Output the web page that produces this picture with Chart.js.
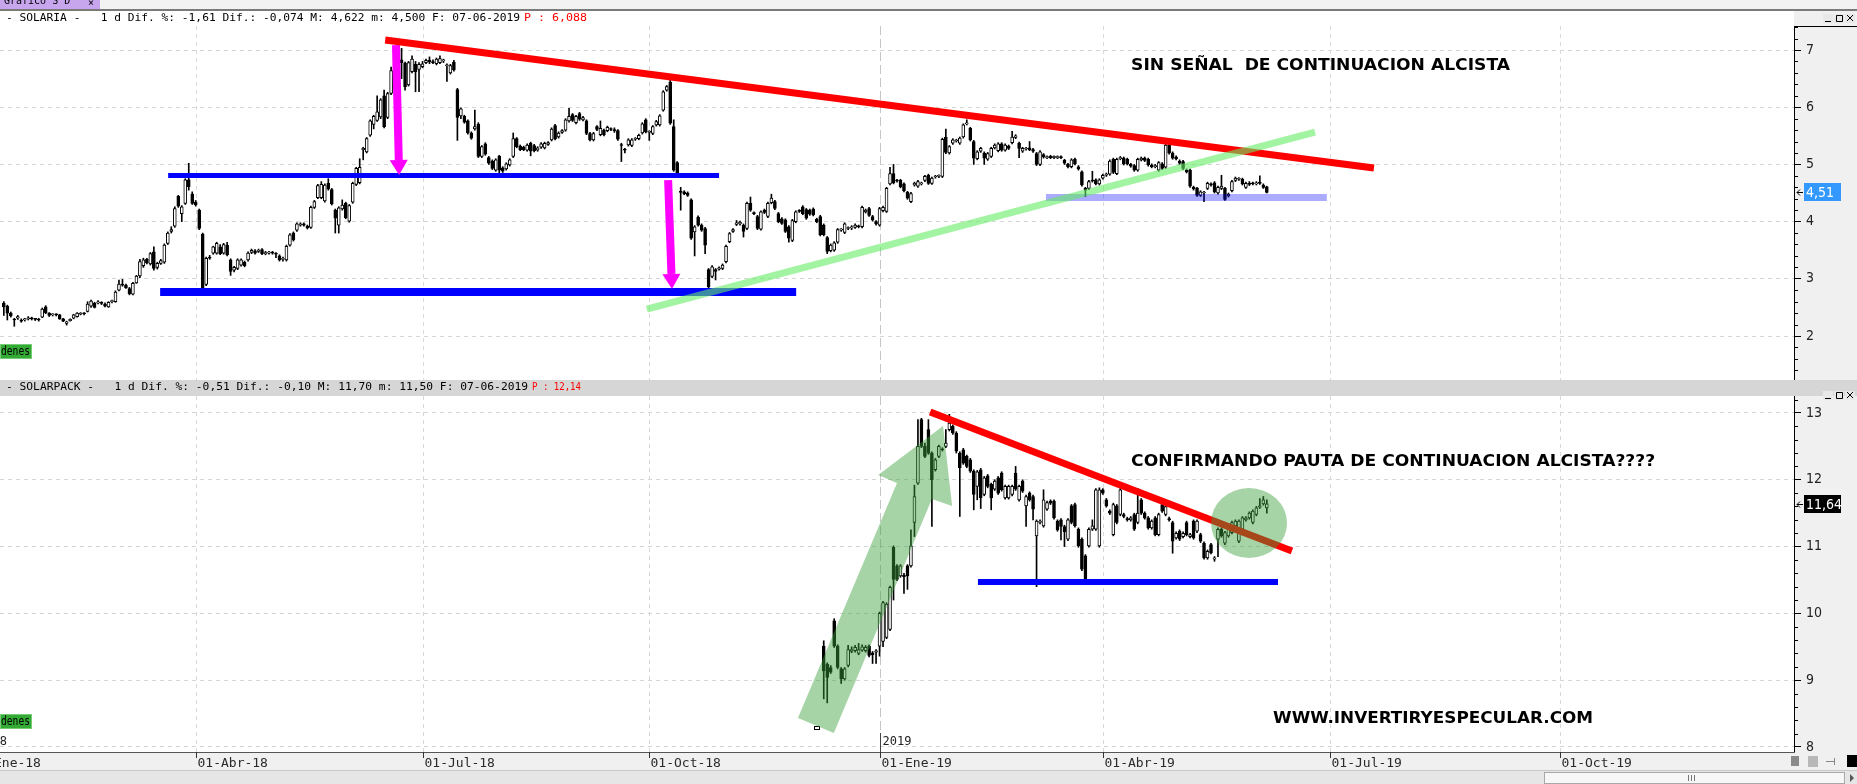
<!DOCTYPE html>
<html>
<head>
<meta charset="utf-8">
<script src="https://cdn.jsdelivr.net/npm/chart.js@4.4.1/dist/chart.umd.min.js"></script>
<style>
  html, body { margin: 0; padding: 0; background: #fff; overflow: hidden; }
  #wrap { position: relative; width: 1857px; height: 784px; }
  canvas { position: absolute; left: 0; }
  #top { top: 0; }
  #bot { top: 380px; }
</style>
</head>
<body>
<div id="wrap">
  <canvas id="top" width="1857" height="380"></canvas>
  <canvas id="bot" width="1857" height="404"></canvas>
</div>
<script>
// x axis = trading-day index counted from 01-Ene-18
const xTickIdx = [0, 65, 130, 195, 261, 325, 390, 456];
const xTickLabels = ['01-Ene-18', '01-Abr-18', '01-Jul-18', '01-Oct-18', '01-Ene-19', '01-Abr-19', '01-Jul-19', '01-Oct-19'];
const xView = [8.9, 523.1];

const solariaRange = [1.231, 7.42];
const solarpackRange = [7.925, 13.254];

// daily candles [open, high, low, close]
const solariaStart = 10;
const solaria = [
  [2.57,2.60,2.36,2.51],[2.52,2.54,2.28,2.40],[2.40,2.42,2.33,2.35],[2.29,2.31,2.17,2.28],[2.31,2.36,2.29,2.34],
  [2.28,2.30,2.24,2.26],[2.28,2.31,2.26,2.30],[2.30,2.34,2.28,2.32],[2.32,2.33,2.28,2.30],[2.30,2.31,2.27,2.29],
  [2.29,2.31,2.26,2.28],[2.33,2.49,2.32,2.47],[2.51,2.53,2.39,2.41],[2.40,2.41,2.34,2.36],[2.37,2.39,2.35,2.38],
  [2.38,2.39,2.35,2.37],[2.37,2.38,2.29,2.30],[2.30,2.31,2.25,2.26],[2.22,2.26,2.19,2.25],[2.27,2.30,2.26,2.29],
  [2.31,2.38,2.30,2.37],[2.34,2.41,2.33,2.40],[2.38,2.41,2.37,2.40],[2.40,2.41,2.37,2.39],[2.43,2.60,2.42,2.56],
  [2.52,2.63,2.50,2.61],[2.57,2.59,2.49,2.50],[2.58,2.62,2.56,2.59],[2.58,2.60,2.55,2.57],[2.56,2.58,2.51,2.52],
  [2.51,2.60,2.50,2.59],[2.60,2.63,2.58,2.61],[2.60,2.79,2.59,2.77],[2.80,2.98,2.79,2.91],[2.90,2.99,2.87,2.89],
  [2.89,2.91,2.83,2.84],[2.83,2.85,2.72,2.74],[2.73,2.94,2.72,2.92],[2.93,3.06,2.92,3.05],[3.05,3.34,3.02,3.30],
  [3.23,3.36,3.20,3.33],[3.34,3.36,3.26,3.28],[3.26,3.46,3.24,3.44],[3.47,3.56,3.15,3.18],[3.20,3.29,3.17,3.27],
  [3.27,3.34,3.25,3.32],[3.29,3.61,3.27,3.59],[3.62,3.82,3.60,3.80],[3.83,3.91,3.80,3.86],[3.92,4.26,3.90,4.23],
  [4.44,4.46,4.25,4.27],[4.14,4.28,4.00,4.26],[4.32,4.75,4.30,4.73],[4.73,5.02,4.55,4.61],[4.48,4.52,4.30,4.32],
  [4.34,4.37,4.27,4.29],[4.20,4.22,3.86,3.88],[3.78,3.80,2.82,2.84],[2.90,3.38,2.88,3.36],[3.38,3.41,3.34,3.36],
  [3.45,3.57,3.43,3.56],[3.45,3.64,3.43,3.62],[3.56,3.60,3.42,3.44],[3.45,3.62,3.43,3.60],[3.59,3.64,3.40,3.42],
  [3.33,3.35,3.06,3.13],[3.15,3.22,3.12,3.20],[3.18,3.35,3.16,3.33],[3.24,3.35,3.22,3.33],[3.29,3.31,3.21,3.23],
  [3.33,3.47,3.31,3.45],[3.46,3.52,3.44,3.50],[3.49,3.51,3.43,3.45],[3.48,3.52,3.46,3.50],[3.51,3.53,3.42,3.44],
  [3.44,3.48,3.42,3.46],[3.45,3.48,3.43,3.46],[3.46,3.48,3.43,3.45],[3.44,3.46,3.37,3.43],[3.40,3.42,3.31,3.33],
  [3.34,3.38,3.31,3.36],[3.33,3.59,3.31,3.57],[3.59,3.79,3.57,3.77],[3.80,3.82,3.66,3.68],[3.85,3.98,3.83,3.96],
  [3.94,3.98,3.92,3.96],[3.96,3.98,3.92,3.94],[3.92,3.94,3.87,3.89],[3.90,4.27,3.88,4.25],[4.25,4.37,4.23,4.35],
  [4.42,4.65,4.40,4.63],[4.42,4.70,4.40,4.65],[4.36,4.66,4.34,4.64],[4.67,4.75,4.55,4.57],[4.56,4.58,4.29,4.31],
  [4.20,4.22,3.80,4.06],[3.94,4.26,3.80,4.24],[4.22,4.38,4.20,4.29],[4.32,4.34,4.05,4.07],[4.01,4.30,3.99,4.28],
  [4.34,4.69,4.32,4.67],[4.65,4.95,4.63,4.93],[4.68,5.10,4.66,4.95],[5.26,5.30,5.08,5.28],[5.22,5.47,5.20,5.45],
  [5.51,5.78,5.49,5.76],[5.70,5.86,5.62,5.84],[5.77,6.20,5.75,5.92],[5.83,6.15,5.80,6.13],[6.20,6.30,5.64,5.66],
  [5.82,6.26,5.80,6.24],[6.24,6.70,6.22,6.64],[6.62,7.05,6.60,6.88],[6.88,7.00,6.75,6.80],[6.83,7.03,6.50,6.78],
  [6.77,6.79,6.30,6.36],[6.39,6.80,6.37,6.78],[6.62,6.90,6.60,6.84],[6.75,6.80,6.27,6.62],[6.66,6.78,6.27,6.75],
  [6.71,6.80,6.69,6.76],[6.78,6.84,6.76,6.82],[6.82,6.88,6.76,6.79],[6.80,6.83,6.76,6.78],[6.76,6.86,6.74,6.84],
  [6.78,6.90,6.76,6.85],[6.81,6.84,6.78,6.82],[6.72,6.76,6.45,6.74],[6.60,6.75,6.58,6.73],[6.79,6.82,6.63,6.65],
  [6.31,6.33,5.42,5.82],[5.85,5.99,5.80,5.97],
  [5.84,5.86,5.72,5.74],[5.76,5.78,5.53,5.55],[5.55,5.57,5.44,5.46],[5.62,5.95,5.60,5.66],[5.70,5.73,5.12,5.14],
  [5.14,5.33,5.12,5.31],[5.36,5.38,5.16,5.18],[5.12,5.14,5.00,5.02],[5.06,5.08,4.91,4.93],[4.90,5.10,4.88,5.08],
  [5.14,5.16,4.85,4.90],[4.94,4.96,4.86,4.88],[4.92,5.03,4.90,5.01],[4.99,5.10,4.97,5.08],[5.14,5.55,5.12,5.45],
  [5.45,5.47,5.29,5.31],[5.32,5.34,5.24,5.26],[5.30,5.32,5.24,5.26],[5.25,5.36,5.23,5.34],[5.37,5.39,5.15,5.23],
  [5.33,5.35,5.22,5.24],[5.25,5.31,5.23,5.29],[5.30,5.38,5.28,5.36],[5.29,5.39,5.27,5.37],[5.35,5.40,5.33,5.38],
  [5.43,5.64,5.41,5.62],[5.68,5.70,5.43,5.45],[5.48,5.57,5.46,5.55],[5.56,5.61,5.54,5.59],[5.60,5.80,5.58,5.78],
  [5.76,5.98,5.74,5.84],[5.87,5.89,5.75,5.77],[5.73,5.86,5.71,5.84],[5.89,5.91,5.77,5.79],[5.78,5.84,5.76,5.82],
  [5.76,5.78,5.52,5.54],[5.54,5.56,5.41,5.43],[5.43,5.56,5.41,5.54],[5.66,5.68,5.59,5.61],[5.52,5.76,5.50,5.63],
  [5.60,5.62,5.50,5.52],[5.59,5.67,5.57,5.65],[5.62,5.64,5.59,5.61],[5.61,5.64,5.56,5.59],[5.59,5.61,5.42,5.44],
  [5.34,5.37,5.05,5.33],[5.26,5.28,5.20,5.25],[5.34,5.45,5.32,5.43],[5.33,5.45,5.31,5.43],[5.44,5.47,5.42,5.45],
  [5.45,5.53,5.43,5.51],[5.55,5.73,5.53,5.71],[5.78,5.80,5.55,5.57],[5.56,5.59,5.42,5.57],[5.54,5.68,5.52,5.66],
  [5.69,5.77,5.67,5.75],[5.69,5.87,5.67,5.85],[5.95,6.29,5.93,6.27],[6.30,6.38,6.28,6.36],[6.44,6.50,5.70,5.72],
  [5.66,5.78,4.88,4.90],[5.03,5.05,4.77,4.79],[4.52,4.60,4.20,4.51],[4.52,4.54,4.47,4.49],[4.50,4.52,4.44,4.46],
  [4.38,4.40,3.69,3.71],[3.82,3.93,3.40,3.91],[4.08,4.10,3.92,3.94],[3.94,3.96,3.83,3.85],[3.88,3.90,3.44,3.59],
  [3.16,3.18,2.84,2.86],[3.04,3.23,3.02,3.21],[3.16,3.18,2.98,3.13],[3.17,3.21,3.15,3.19],[3.18,3.26,3.16,3.24],
  [3.30,3.59,3.28,3.57],[3.65,3.81,3.63,3.79],[3.83,3.88,3.81,3.86],[3.95,4.02,3.93,3.98],[3.96,4.01,3.94,3.99],
  [3.94,3.96,3.73,3.83],[3.88,4.34,3.86,4.32],[4.32,4.43,4.18,4.20],[4.15,4.17,4.12,4.14],[4.09,4.11,3.86,3.88],
  [3.87,4.19,3.85,4.17],[4.20,4.22,4.14,4.16],[4.09,4.34,4.07,4.32],[4.33,4.48,4.31,4.41],[4.35,4.37,4.21,4.23],
  [4.14,4.16,3.98,4.00],[4.05,4.07,3.95,3.97],[4.03,4.05,3.81,3.83],[3.91,3.93,3.64,3.71],[3.67,4.04,3.65,4.02],
  [4.00,4.19,3.98,4.17],[4.19,4.21,4.16,4.18],[4.26,4.28,4.12,4.14],[4.21,4.23,4.04,4.06],[4.20,4.22,4.11,4.13],
  [4.22,4.24,4.10,4.12],[4.04,4.06,3.98,4.00],[4.09,4.11,3.75,3.77],[3.94,3.96,3.75,3.77],[3.72,3.74,3.44,3.48],
  [3.49,3.61,3.47,3.59],[3.50,3.65,3.48,3.63],[3.64,3.88,3.62,3.86],[3.85,3.88,3.83,3.86],[3.81,3.98,3.79,3.96],
  [3.88,3.91,3.86,3.89],[3.89,3.93,3.86,3.91],[3.90,3.96,3.88,3.94],[3.92,3.94,3.89,3.91],[3.91,4.27,3.89,4.25],
  [4.17,4.22,4.15,4.20],[4.23,4.25,4.09,4.11],[4.09,4.11,4.01,4.03],[4.00,4.02,3.94,3.96],[3.94,4.25,3.92,4.23],
  [4.19,4.27,4.17,4.25],[4.18,4.60,4.16,4.58],[4.66,4.95,4.64,4.84],[4.84,5.00,4.66,4.68],[4.72,4.74,4.69,4.71],
  [4.72,4.74,4.59,4.61],[4.66,4.68,4.52,4.54],[4.51,4.53,4.39,4.41],[4.35,4.51,4.33,4.49],[4.64,4.69,4.62,4.67],
  [4.62,4.72,4.60,4.70],[4.66,4.69,4.64,4.67],[4.72,4.81,4.70,4.79],[4.81,4.83,4.65,4.67],[4.67,4.78,4.65,4.76],
  [4.78,4.81,4.76,4.79],[4.79,4.82,4.77,4.80],[4.79,5.46,4.77,5.44],[5.48,5.62,5.19,5.21],[5.20,5.33,5.18,5.31],
  [5.37,5.45,5.35,5.43],[5.41,5.44,5.39,5.42],[5.37,5.48,5.35,5.46],[5.48,5.71,5.46,5.69],[5.71,5.78,5.69,5.72],
  [5.63,5.65,5.41,5.43],[5.40,5.42,5.00,5.11],[5.10,5.24,5.08,5.22],[5.23,5.30,5.21,5.28],[5.20,5.22,5.00,5.11],
  [5.09,5.21,5.07,5.19],[5.14,5.30,5.12,5.28],[5.29,5.36,5.27,5.34],[5.24,5.38,5.22,5.36],[5.36,5.38,5.23,5.25],
  [5.25,5.36,5.23,5.34],[5.32,5.34,5.26,5.28],[5.38,5.58,5.36,5.48],[5.47,5.52,5.45,5.50],[5.37,5.39,5.12,5.28],
  [5.23,5.30,5.21,5.28],[5.27,5.30,5.25,5.28],[5.29,5.40,5.24,5.26],[5.26,5.28,5.21,5.23],[5.19,5.21,4.98,5.00],
  [5.00,5.24,4.98,5.22],[5.17,5.19,5.11,5.13],[5.12,5.15,5.10,5.13],[5.14,5.16,5.10,5.12],[5.12,5.15,5.10,5.14],
  [5.12,5.15,5.10,5.13],[5.13,5.15,5.10,5.12],[5.07,5.09,5.00,5.02],[5.00,5.02,4.94,4.96],[4.96,5.10,4.94,5.08],
  [5.09,5.11,4.99,5.01],[4.96,4.98,4.90,4.92],[4.87,4.89,4.62,4.64],[4.58,4.60,4.44,4.55],[4.58,4.72,4.56,4.70],
  [4.72,4.88,4.69,4.71],[4.73,4.75,4.64,4.66],[4.66,4.75,4.64,4.73],[4.76,4.83,4.74,4.81],[4.81,4.85,4.79,4.83],
  [4.83,5.08,4.81,5.06],[5.09,5.11,4.84,4.86],[4.84,5.11,4.82,5.09],[5.10,5.14,5.08,5.11],[5.11,5.13,4.99,5.01],
  [5.09,5.11,4.99,5.01],[5.00,5.02,4.95,4.97],[4.98,5.00,4.88,4.90],[4.90,5.11,4.88,5.09],[5.08,5.13,5.06,5.11],
  [5.11,5.13,5.05,5.07],[5.09,5.11,4.97,4.99],[4.99,5.01,4.94,4.96],[4.96,5.00,4.94,4.98],[4.90,5.05,4.88,5.03],
  [5.01,5.03,4.91,4.93],[4.95,5.37,4.93,5.34],[5.34,5.36,5.18,5.20],[5.20,5.22,5.09,5.11],[5.13,5.15,5.08,5.10],
  [5.06,5.08,5.00,5.02],[5.05,5.07,4.91,4.93],[4.90,4.92,4.85,4.87],[4.90,4.92,4.60,4.62],[4.60,4.62,4.55,4.57],
  [4.58,4.60,4.44,4.46],[4.46,4.54,4.44,4.52],[4.50,4.53,4.35,4.51],[4.58,4.69,4.56,4.67],[4.66,4.68,4.62,4.64],
  [4.68,4.70,4.50,4.52],[4.50,4.62,4.48,4.60],[4.58,4.81,4.56,4.62],[4.58,4.60,4.37,4.39],[4.45,4.50,4.43,4.48],
  [4.54,4.72,4.52,4.70],[4.72,4.78,4.70,4.76],[4.74,4.77,4.72,4.75],[4.74,4.76,4.64,4.66],[4.60,4.69,4.58,4.67],
  [4.67,4.70,4.63,4.65],[4.67,4.69,4.64,4.66],[4.66,4.70,4.64,4.68],[4.69,4.80,4.65,4.67],[4.64,4.66,4.58,4.60],
  [4.61,4.62,4.50,4.51]
];

const solarpackStart = 245;
const solarpack = [
  [9.51,9.59,8.72,9.14],[9.24,9.26,8.66,9.04],[9.19,9.22,9.10,9.12],[9.89,9.92,9.49,9.51],[9.51,9.53,9.17,9.19],
  [9.17,9.19,8.95,9.02],[9.02,9.19,9.00,9.17],[9.22,9.52,9.20,9.46],[9.43,9.50,9.41,9.46],[9.44,9.52,9.42,9.49],
  [9.40,9.55,9.38,9.46],[9.45,9.53,9.43,9.50],[9.44,9.52,9.42,9.49],[9.51,9.53,9.35,9.37],[9.41,9.43,9.25,9.38],
  [9.42,9.46,9.25,9.44],[9.51,10.02,9.36,10.00],[9.58,10.18,9.50,10.16],[9.64,10.16,9.62,10.14],[9.76,10.41,9.74,10.39],
  [10.99,11.01,10.20,10.51],[10.71,10.73,10.49,10.51],[10.56,10.73,10.54,10.71],[10.57,10.60,10.30,10.55],[10.71,10.73,10.36,10.56],
  [10.71,11.25,10.69,11.01],[11.36,11.92,11.15,11.75],[11.95,12.90,11.93,12.50],[12.90,12.92,12.48,12.50],[12.50,12.55,12.33,12.35],
  [12.75,12.90,12.38,12.40],[12.40,12.42,11.30,12.00],[12.15,12.32,12.13,12.30],[12.35,12.52,12.33,12.50],[12.46,12.48,12.43,12.45],
  [12.50,12.75,12.48,12.55],[12.75,12.98,12.73,12.85],[12.80,12.82,12.68,12.70],[12.70,12.72,12.40,12.43],[12.40,12.42,11.45,12.18],
  [12.45,12.47,12.23,12.25],[12.35,12.37,12.18,12.20],[12.30,12.32,12.11,12.13],[12.13,12.15,11.55,11.78],[11.90,12.14,11.70,12.12],
  [12.15,12.17,11.57,11.73],[11.78,12.05,11.76,12.03],[12.06,12.08,11.88,11.90],[11.93,11.95,11.55,11.73],[11.86,12.00,11.84,11.98],
  [12.03,12.05,11.78,11.80],[12.10,12.12,11.83,11.85],[11.73,11.92,11.71,11.90],[11.73,11.92,11.71,11.90],[11.78,11.92,11.76,11.90],
  [12.10,12.20,11.84,11.86],[11.70,11.92,11.68,11.90],[11.98,12.00,11.81,11.83],[11.61,11.77,11.30,11.75],[11.80,11.82,11.68,11.70],
  [11.75,11.77,11.40,11.56],[11.16,11.40,10.40,11.38],[11.36,11.40,11.34,11.38],[11.31,11.85,11.29,11.70],[11.56,11.68,11.54,11.66],
  [11.68,11.70,11.63,11.65],[11.68,11.70,11.41,11.43],[11.38,11.40,11.23,11.25],[11.40,11.42,11.10,11.30],[11.30,11.32,11.00,11.22],
  [11.11,11.42,11.09,11.40],[11.61,11.63,11.34,11.36],[11.63,11.65,11.29,11.31],[11.26,11.28,10.99,11.01],[11.11,11.13,10.64,10.66],
  [10.86,10.88,10.47,10.51],[11.01,11.28,10.99,11.26],[11.26,11.40,11.24,11.31],[11.26,11.87,11.24,11.85],[11.01,11.88,10.99,11.85],
  [11.85,11.87,11.78,11.80],[11.70,11.72,11.59,11.61],[11.53,11.55,11.48,11.50],[11.18,11.65,11.16,11.63],[11.61,11.63,11.34,11.36],
  [11.48,11.87,11.46,11.85],[11.48,11.50,11.43,11.45],[11.42,11.44,11.38,11.40],[11.40,11.45,11.38,11.43],[11.48,11.50,11.24,11.26],
  [11.36,11.87,11.34,11.50],[11.70,11.72,11.48,11.50],[11.50,11.52,11.41,11.43],[11.43,11.45,11.26,11.28],[11.28,11.40,11.26,11.38],
  [11.43,11.45,11.16,11.18],[11.18,11.50,11.16,11.48],[11.63,11.70,11.51,11.53],[11.48,11.62,11.46,11.60],[11.42,11.44,11.38,11.40],
  [11.36,11.38,10.90,11.08],[11.13,11.22,11.11,11.20],[11.23,11.25,11.09,11.11],[11.15,11.22,11.13,11.20],[11.36,11.38,11.16,11.18],
  [11.15,11.20,11.13,11.18],[11.38,11.40,11.11,11.13],[11.23,11.40,11.21,11.38],[11.18,11.20,11.06,11.08],[11.05,11.07,10.81,10.83],
  [10.83,10.95,10.81,10.93],[11.03,11.05,10.89,10.91],[10.81,10.85,10.78,10.83],[11.11,11.28,10.85,11.26],[11.26,11.28,11.14,11.16],
  [11.05,11.23,11.03,11.21],[11.16,11.33,11.14,11.31],[11.21,11.38,11.19,11.36],[11.31,11.40,11.29,11.38],[11.08,11.40,11.06,11.38],
  [11.26,11.45,11.24,11.43],[11.40,11.45,11.38,11.43],[11.43,11.52,11.41,11.50],[11.36,11.55,11.34,11.53],[11.48,11.60,11.46,11.58],
  [11.59,11.72,11.57,11.61],[11.64,11.75,11.62,11.70],[11.58,11.70,11.50,11.64]
];
const solarpackLowMark = [243, 8.28];

const solariaTitle = '- SOLARIA -   1 d Dif. %: -1,61 Dif.: -0,074 M: 4,622 m: 4,500 F: 07-06-2019';
const solariaTitleP = 'P : 6,088';
const solarpackTitle = '- SOLARPACK -   1 d Dif. %: -0,51 Dif.: -0,10 M: 11,70 m: 11,50 F: 07-06-2019';
const solarpackTitleP = 'P : 12,14';

// drawn analysis, in (day index, price)
const solRed = [[119.3, 7.175], [402.7, 4.937]];
const solBlueHigh = [[57.1, 4.806], [215.0, 4.806]];
const solBlueLow = [[54.8, 2.769], [237.1, 2.769]];
const solGreen = [[194.3, 2.472], [385.8, 5.566]];
const solLilac = [[308.7, 4.421], [389.2, 4.421]];
const solArrows = [[[122.4, 7.087], [123.3, 4.815]], [[200.4, 4.727], [201.5, 2.822]]];
const solNote = ['SIN SEÑAL  DE CONTINUACION ALCISTA', 333.1, 441.7, 6.72];

const spkRed = [[275.5, 13.015], [379.2, 10.934]];
const spkBlue = [[289.2, 10.47], [375.2, 10.47]];
const spkArrow = [[237.6, 8.434], [266.0, 11.952], [260.6, 12.072], [279.2, 12.805], [281.8, 11.608], [276.0, 11.713], [247.9, 8.210]];
const spkCircle = [366.9, 11.353, 10.9, 0.524];
const spkNote = ['CONFIRMANDO PAUTA DE CONTINUACION ALCISTA????', 333.1, 483.3, 12.27];
const spkSite = ['WWW.INVERTIRYESPECULAR.COM', 373.8, 465.5, 8.42];

const monoFont = '"DejaVu Sans Mono", "Liberation Mono", monospace';
const axisFont = '"DejaVu Sans Condensed", "DejaVu Sans", sans-serif';
const boldFont = 'bold 16px "DejaVu Sans", Arial, sans-serif';

function candleSets(rows, start) {
  const wicks = rows.map((r, i) => ({x: start + i, y: [r[2], r[1]]}));
  const bodies = rows.map((r, i) => ({x: start + i, y: [r[0], r[3]], up: r[3] >= r[0]}));
  return [
    {data: wicks, backgroundColor: '#000', borderWidth: 0, barThickness: 1, grouped: false, order: 2},
    {data: bodies, backgroundColor: c => (c.raw && c.raw.up) ? '#fff' : '#000', borderColor: '#000',
     borderWidth: 1, borderSkipped: false, barThickness: 3, minBarLength: 1, grouped: false, order: 1}
  ];
}

function fitText(ctx, str, x0, x1, yc, font, color) {
  ctx.save();
  ctx.font = font;
  ctx.fillStyle = color;
  ctx.textBaseline = 'middle';
  ctx.textAlign = 'left';
  const w = ctx.measureText(str).width;
  ctx.translate(x0, yc);
  ctx.scale((x1 - x0) / w, 1);
  ctx.fillText(str, 0, 0);
  ctx.restore();
}

function px(chart, p) {
  return [chart.scales.x.getPixelForValue(p[0]), chart.scales.y.getPixelForValue(p[1])];
}

function seg(chart, a, b, width, color) {
  const ctx = chart.ctx;
  const [x1, y1] = px(chart, a), [x2, y2] = px(chart, b);
  ctx.save();
  ctx.strokeStyle = color;
  ctx.lineWidth = width;
  ctx.lineCap = 'butt';
  ctx.beginPath();
  ctx.moveTo(x1, y1);
  ctx.lineTo(x2, y2);
  ctx.stroke();
  ctx.restore();
}

function arrow(chart, a, b, color) {
  const ctx = chart.ctx;
  const [x1, y1] = px(chart, a), [x2, y2] = px(chart, b);
  const len = Math.hypot(x2 - x1, y2 - y1), ux = (x2 - x1) / len, uy = (y2 - y1) / len;
  const hx = x2 - ux * 15, hy = y2 - uy * 15;
  ctx.save();
  ctx.strokeStyle = color;
  ctx.fillStyle = color;
  ctx.lineWidth = 8;
  ctx.beginPath();
  ctx.moveTo(x1, y1);
  ctx.lineTo(hx, hy);
  ctx.stroke();
  ctx.beginPath();
  ctx.moveTo(x2, y2);
  ctx.lineTo(hx - uy * 9, hy + ux * 9);
  ctx.lineTo(hx + uy * 9, hy - ux * 9);
  ctx.closePath();
  ctx.fill();
  ctx.restore();
}

function noteText(chart, note) {
  const x = chart.scales.x, y = chart.scales.y;
  fitText(chart.ctx, note[0], x.getPixelForValue(note[1]), x.getPixelForValue(note[2]), y.getPixelForValue(note[3]), boldFont, '#000');
}

function vGrid(chart) {
  const {ctx, chartArea: ca, scales: {x}} = chart;
  ctx.save();
  ctx.lineWidth = 1;
  xTickIdx.forEach((t, i) => {
    const p = Math.round(x.getPixelForValue(t)) + 0.5;
    if (p < ca.left || p > ca.right) return;
    const yearStart = xTickLabels[i].indexOf('Ene') > 0;
    ctx.strokeStyle = yearStart ? '#c6c6c6' : '#d8d8d8';
    ctx.setLineDash(yearStart ? [9, 4] : [4, 4]);
    ctx.beginPath();
    ctx.moveTo(p, ca.top);
    ctx.lineTo(p, ca.bottom);
    ctx.stroke();
  });
  ctx.restore();
}

function axisExtras(chart, last, boxColor) {
  const {ctx, chartArea: ca, scales: {y}} = chart;
  ctx.save();
  ctx.strokeStyle = '#000';
  ctx.lineWidth = 1;
  for (let v = Math.ceil(y.min * 5) / 5; v <= y.max; v = Math.round((v + 0.2) * 5) / 5) {
    if (Math.abs(v - Math.round(v)) < 1e-6) continue;
    const py = Math.round(y.getPixelForValue(v)) + 0.5;
    ctx.beginPath();
    ctx.moveTo(ca.right, py);
    ctx.lineTo(ca.right + 4, py);
    ctx.stroke();
  }
  const py = Math.round(y.getPixelForValue(last));
  ctx.fillStyle = boxColor;
  ctx.fillRect(ca.right + 10, py - 9, 37, 18);
  ctx.font = '14px ' + axisFont;
  ctx.fillStyle = '#fff';
  ctx.textBaseline = 'middle';
  ctx.fillText(last.toFixed(2).replace('.', ','), ca.right + 12, py + 1);
  ctx.beginPath();
  ctx.moveTo(ca.right + 3, py + 0.5);
  ctx.lineTo(ca.right + 9, py + 0.5);
  ctx.moveTo(ca.right + 6, py - 2.5);
  ctx.lineTo(ca.right + 3, py + 0.5);
  ctx.lineTo(ca.right + 6, py + 3.5);
  ctx.stroke();
  ctx.restore();
}

function winButtons(ctx, y) {
  ctx.save();
  ctx.strokeStyle = '#000';
  ctx.fillStyle = '#e8e8e8';
  ctx.lineWidth = 1;
  [1823, 1834, 1845].forEach(x => { ctx.fillRect(x, y, 10, 9); });
  ctx.beginPath();
  ctx.moveTo(1825, y + 7.5); ctx.lineTo(1831, y + 7.5);
  ctx.rect(1836.5, y + 1.5, 6, 6);
  ctx.moveTo(1847, y + 1); ctx.lineTo(1853, y + 7);
  ctx.moveTo(1853, y + 1); ctx.lineTo(1847, y + 7);
  ctx.stroke();
  ctx.restore();
}

function denes(ctx, y) {
  ctx.save();
  ctx.fillStyle = '#33aa33';
  ctx.fillRect(0, y, 32, 15);
  ctx.strokeStyle = '#77cc77';
  ctx.strokeRect(0.5, y + 0.5, 31, 14);
  fitText(ctx, 'denes', 1, 30, y + 8, '12px ' + monoFont, '#000');
  ctx.restore();
}

function titleLine(ctx, y, main, mainEnd, red, redStart, redEnd) {
  fitText(ctx, main, 6, mainEnd, y, '11px ' + monoFont, '#000');
  fitText(ctx, red, redStart, redEnd, y, '11px ' + monoFont, '#ff0000');
}

function yScale(range) {
  return {
    type: 'linear', position: 'right', min: range[0], max: range[1],
    afterFit: s => { s.width = 63; s.paddingTop = 0; s.paddingBottom = 0; },
    ticks: {stepSize: 1, includeBounds: false, padding: 5, color: '#222',
            font: {family: axisFont, size: 14}, callback: v => String(v)},
    grid: {color: '#d6d6d6', tickColor: '#000', tickLength: 7},
    border: {display: true, color: '#000', width: 1, dash: [4, 4]}
  };
}

const xScale = {type: 'linear', min: xView[0], max: xView[1], display: false, offset: false};

const topPlugin = {
  id: 'topPanel',
  beforeDraw(chart) {
    const ctx = chart.ctx, ca = chart.chartArea;
    ctx.save();
    ctx.fillStyle = '#fff';
    ctx.fillRect(0, 0, chart.width, chart.height);
    ctx.fillStyle = '#f2f2f2';
    ctx.fillRect(0, 0, chart.width, 9);
    ctx.fillStyle = '#c7a6ee';
    ctx.fillRect(0, 0, 100, 9);
    ctx.fillStyle = '#7a7a7a';
    ctx.fillRect(0, 9, chart.width, 2);
    ctx.fillStyle = '#f0f0f0';
    ctx.fillRect(ca.right, 11, chart.width - ca.right, chart.height - 11);
    ctx.fillStyle = '#000';
    ctx.fillRect(ca.right, ca.top, chart.width - ca.right, 1);
    ctx.font = '10px ' + monoFont;
    ctx.textBaseline = 'alphabetic';
    ctx.fillText('Gráfico S D', 4, 4);
    ctx.fillText('×', 88, 6);
    ctx.restore();
  },
  beforeDatasetsDraw(chart) { vGrid(chart); },
  afterDatasetsDraw(chart) {
    const ctx = chart.ctx, ca = chart.chartArea;
    ctx.save();
    ctx.beginPath();
    ctx.rect(ca.left, ca.top, ca.right - ca.left, ca.bottom - ca.top);
    ctx.clip();
    seg(chart, solBlueHigh[0], solBlueHigh[1], 5, '#0000ff');
    seg(chart, solBlueLow[0], solBlueLow[1], 8, '#0000ff');
    solArrows.forEach(a => arrow(chart, a[0], a[1], '#ff00ff'));
    seg(chart, solRed[0], solRed[1], 7, '#ff0000');
    seg(chart, solLilac[0], solLilac[1], 7, 'rgba(0,0,255,0.33)');
    seg(chart, solGreen[0], solGreen[1], 7, 'rgba(100,235,100,0.6)');
    noteText(chart, solNote);
    ctx.restore();
  },
  afterDraw(chart) {
    const ctx = chart.ctx;
    axisExtras(chart, solaria[solaria.length - 1][3], '#3399ff');
    titleLine(ctx, 18, solariaTitle, 520, solariaTitleP, 524, 587);
    winButtons(ctx, 14);
    denes(ctx, 344);
  }
};

const botPlugin = {
  id: 'bottomPanel',
  beforeDraw(chart) {
    const ctx = chart.ctx, ca = chart.chartArea;
    ctx.save();
    ctx.fillStyle = '#fff';
    ctx.fillRect(0, 0, chart.width, chart.height);
    ctx.fillStyle = '#d6d6d6';
    ctx.fillRect(0, 0, chart.width, ca.top);
    ctx.fillStyle = '#f0f0f0';
    ctx.fillRect(ca.right, ca.top, chart.width - ca.right, ca.bottom - ca.top);
    ctx.restore();
  },
  beforeDatasetsDraw(chart) { vGrid(chart); },
  afterDatasetsDraw(chart) {
    const ctx = chart.ctx, ca = chart.chartArea;
    ctx.save();
    ctx.beginPath();
    ctx.rect(ca.left, ca.top, ca.right - ca.left, ca.bottom - ca.top);
    ctx.clip();
    // low marker of first session
    const [mx, my] = px(chart, solarpackLowMark);
    ctx.fillStyle = '#fff';
    ctx.strokeStyle = '#000';
    ctx.fillRect(Math.round(mx) - 2, Math.round(my) - 1, 5, 3);
    ctx.strokeRect(Math.round(mx) - 2.5, Math.round(my) - 1.5, 5, 3);
    seg(chart, spkBlue[0], spkBlue[1], 6, '#0000ff');
    seg(chart, spkRed[0], spkRed[1], 7, '#ff0000');
    ctx.fillStyle = 'rgba(60,160,60,0.45)';
    ctx.beginPath();
    spkArrow.forEach((p, i) => {
      const [x, y] = px(chart, p);
      if (i === 0) ctx.moveTo(x, y); else ctx.lineTo(x, y);
    });
    ctx.closePath();
    ctx.fill();
    const xs = chart.scales.x, ys = chart.scales.y;
    const cx = xs.getPixelForValue(spkCircle[0]), cy = ys.getPixelForValue(spkCircle[1]);
    const rx = xs.getPixelForValue(spkCircle[0] + spkCircle[2]) - cx;
    const ry = cy - ys.getPixelForValue(spkCircle[1] + spkCircle[3]);
    ctx.beginPath();
    ctx.ellipse(cx, cy, rx, ry, 0, 0, Math.PI * 2);
    ctx.fill();
    noteText(chart, spkNote);
    noteText(chart, spkSite);
    ctx.restore();
  },
  afterDraw(chart) {
    const ctx = chart.ctx, ca = chart.chartArea, xs = chart.scales.x;
    axisExtras(chart, solarpack[solarpack.length - 1][3], '#000');
    titleLine(ctx, 7, solarpackTitle, 528, solarpackTitleP, 532, 581);
    winButtons(ctx, 11);
    denes(ctx, 334);
    ctx.save();
    // year marks inside the panel
    const yx = Math.round(xs.getPixelForValue(261)) + 0.5;
    ctx.strokeStyle = '#444';
    ctx.beginPath();
    ctx.moveTo(yx, ca.bottom - 19);
    ctx.lineTo(yx, ca.bottom);
    ctx.stroke();
    ctx.font = '12px ' + monoFont;
    ctx.fillStyle = '#222';
    ctx.textBaseline = 'middle';
    ctx.fillText('2019', yx + 2, ca.bottom - 10);
    ctx.textAlign = 'right';
    ctx.fillText('2018', 7, ca.bottom - 10);
    ctx.textAlign = 'left';
    // date axis
    ctx.fillStyle = '#f0f0f0';
    ctx.fillRect(0, ca.bottom, chart.width, chart.height - ca.bottom);
    ctx.fillStyle = '#555';
    ctx.fillRect(0, ca.bottom, ca.right + 1, 1);
    ctx.strokeStyle = '#333';
    ctx.font = '13px ' + monoFont;
    ctx.fillStyle = '#2a2a2a';
    xTickIdx.forEach((t, i) => {
      const p = Math.round(xs.getPixelForValue(t)) + 0.5;
      ctx.beginPath();
      ctx.moveTo(p, ca.bottom);
      ctx.lineTo(p, ca.bottom + 6);
      ctx.stroke();
      ctx.fillText(xTickLabels[i], p + 1, ca.bottom + 12);
    });
    // scroll bar and tool icons
    ctx.fillStyle = '#c8c8c8';
    ctx.fillRect(0, ca.bottom + 18, chart.width, 1);
    ctx.fillStyle = '#e6e6e6';
    ctx.fillRect(0, ca.bottom + 19, chart.width, chart.height - ca.bottom - 19);
    ctx.fillStyle = '#f7f7f7';
    ctx.fillRect(1544, ca.bottom + 20, 300, 12);
    ctx.strokeStyle = '#a8a8a8';
    ctx.strokeRect(1544.5, ca.bottom + 20.5, 300, 11);
    ctx.strokeStyle = '#777';
    [1688, 1691, 1694].forEach(gx => {
      ctx.beginPath();
      ctx.moveTo(gx + 0.5, ca.bottom + 23);
      ctx.lineTo(gx + 0.5, ca.bottom + 29);
      ctx.stroke();
    });
    ctx.fillStyle = '#555';
    ctx.beginPath();
    ctx.moveTo(1850, ca.bottom + 22); ctx.lineTo(1854, ca.bottom + 26); ctx.lineTo(1850, ca.bottom + 30);
    ctx.fill();
    ctx.fillStyle = '#8a8a8a';
    ctx.fillRect(1791, ca.bottom + 4, 8, 10);
    ctx.fillStyle = '#b8b8b8';
    ctx.fillRect(1808, ca.bottom + 4, 10, 11);
    ctx.fillStyle = '#888';
    ctx.fillRect(1826, ca.bottom + 9, 8, 1);
    ctx.fillRect(1834, ca.bottom + 6, 1, 7);
    ctx.fillStyle = '#000';
    ctx.fillRect(1847, ca.bottom + 3, 10, 12);
    ctx.restore();
  }
};

function makeChart(id, rows, start, range, padding, plugin) {
  return new Chart(document.getElementById(id), {
    type: 'bar',
    data: {datasets: candleSets(rows, start)},
    options: {
      responsive: false, animation: false, devicePixelRatio: 1, events: [],
      layout: {padding},
      plugins: {legend: {display: false}, tooltip: {enabled: false}},
      scales: {x: xScale, y: yScale(range)}
    },
    plugins: [plugin]
  });
}

makeChart('top', solaria, solariaStart, solariaRange, {top: 26, left: 0, right: 0, bottom: 0}, topPlugin);
makeChart('bot', solarpack, solarpackStart, solarpackRange, {top: 16, left: 0, right: 0, bottom: 32}, botPlugin);
</script>
</body>
</html>
